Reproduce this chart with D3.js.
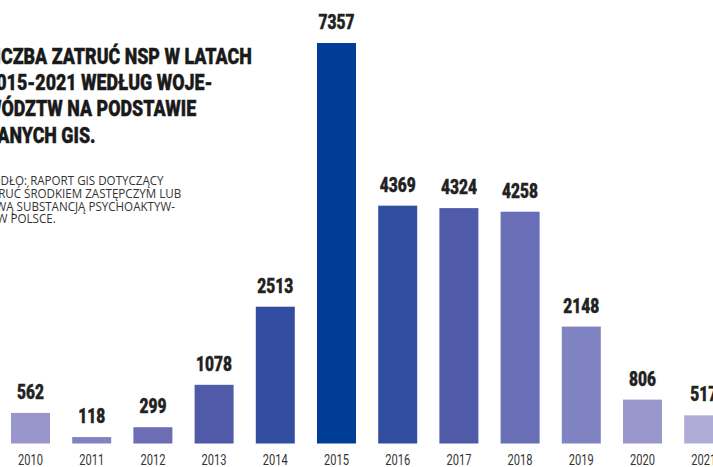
<!DOCTYPE html>
<html>
<head>
<meta charset="utf-8">
<script src="https://cdn.jsdelivr.net/npm/d3@7"></script>
<style>
  html, body { margin: 0; padding: 0; background: #fff; overflow: hidden; }
  svg { display: block; }
  .cond { font-family: "Roboto", "Liberation Sans Narrow", "DejaVu Sans Condensed", sans-serif; }
</style>
</head>
<body>
<div id="chart"></div>
<script>
var w = 713;
var h = 467;

// data
var years = ["2010","2011","2012","2013","2014","2015","2016","2017","2018","2019","2020","2021"];
var cases = [562, 118, 299, 1078, 2513, 7357, 4369, 4324, 4258, 2148, 806, 517];
var barColors = ["#9896ca","#8182c1","#6b6db5","#4f5ba8","#334da0","#003d96",
                 "#324ea0","#4f5aa8","#6a6eb6","#8083c1","#9997cb","#aeabd7"];

// title / source text (left part cut off by the frame, like in the picture)
var titleLines = ["LICZBA ZATRUĆ NSP W LATACH", "2015-2021 WEDŁUG WOJE-", "WÓDZTW NA PODSTAWIE", "DANYCH GIS."];
var sourceLines = ["ŹRÓDŁO: RAPORT GIS DOTYCZĄCY", "ZATRUĆ ŚRODKIEM ZASTĘPCZYM LUB", "NOWĄ SUBSTANCJĄ PSYCHOAKTYW-", "NĄ W POLSCE."];

var svg1 = d3.select("#chart")
  .append("svg")
  .attr("width", w)
  .attr("height", h);

var x = d3.scaleBand()
  .domain(years)
  .range([11, 11 + 11 * 61.2 + 39])
  .paddingInner(1 - 39 / 61.2)
  .paddingOuter(0);

var y = d3.scaleLinear()
  .domain([0, 7357])
  .range([443.5, 43]);

// helper: width of a string in a given style
function measure(str, cls, size, weight) {
  var t = svg1.append("text").attr("class", cls)
    .style("font-size", size + "px").style("font-weight", weight).text(str);
  var wd = t.node().getComputedTextLength();
  t.remove();
  return wd;
}

//bars
svg1.selectAll("rect.bar")
  .data(years)
  .enter()
  .append("rect")
  .attr("class", "bar")
  .attr("x", function(d) { return x(d); })
  .attr("y", function(d, i) { return y(cases[i]); })
  .attr("width", x.bandwidth())
  .attr("height", function(d, i) { return y(0) - y(cases[i]); })
  .attr("fill", function(d, i) { return barColors[i]; });

//value labels
var valSize = 20;
var valSx = 36 / measure("4369", "cond", valSize, 900);
svg1.selectAll("text.val")
  .data(years)
  .enter()
  .append("text")
  .attr("class", "val cond")
  .attr("text-anchor", "middle")
  .attr("transform", function(d, i) {
    return "translate(" + (x(d) + x.bandwidth() / 2) + "," + (y(cases[i]) - 14) + ") scale(" + valSx + ",1)";
  })
  .style("font-size", valSize + "px")
  .style("font-weight", 900)
  .style("fill", "#222")
  .style("stroke", "#222")
  .style("stroke-width", 0.4)
  .text(function(d, i) { return cases[i]; });

//year axis
var xAxis = d3.axisBottom(x).tickSize(0).tickPadding(0);
var yrSize = 15;
var yrSx = 25 / measure("2010", "cond", yrSize, "normal");
var ax = svg1.append("g").attr("transform", "translate(0,451)").call(xAxis);
ax.select(".domain").remove();
ax.selectAll("text")
  .attr("class", "cond")
  .attr("dy", null)
  .attr("y", 14)
  .attr("transform", "scale(" + yrSx + ",1)")
  .attr("x", 0)
  .style("font-size", yrSize + "px")
  .style("font-family", null)
  .style("fill", "#333");
ax.selectAll(".tick")
  .attr("transform", function(d) { return "translate(" + (x(d) + x.bandwidth() / 2) + ",0)"; });

//title
var tSize = 22;
var tSx = 251 / measure("CZBA ZATRUĆ NSP W LATACH", "cond", tSize, 900);
var tX = 1 - tSx * measure("LI", "cond", tSize, 900);
var title = svg1.append("g").attr("transform", "translate(" + tX + ",0) scale(" + tSx + ",1)");
title.selectAll("text")
  .data(titleLines)
  .enter()
  .append("text")
  .attr("class", "cond")
  .attr("x", 0)
  .attr("y", function(d, i) { return 64 + i * 26.2; })
  .style("font-size", tSize + "px")
  .style("font-weight", 900)
  .style("fill", "#1a1a1a")
  .style("stroke", "#1a1a1a")
  .style("stroke-width", 0.4)
  .text(function(d) { return d; });

//source
var sSize = 12.5;
var sSx = 171 / measure("DŁO: RAPORT GIS DOTYCZĄCY", "src", sSize, "normal");
var sX = 1 - sSx * measure("ŹRÓ", "src", sSize, "normal");
var src = svg1.append("g").attr("transform", "translate(" + sX + ",0) scale(" + sSx + ",1)");
src.selectAll("text")
  .data(sourceLines)
  .enter()
  .append("text")
  .attr("x", 0)
  .attr("y", function(d, i) { return 185.5 + i * 12.6; })
  .style("font-family", "'Open Sans', sans-serif")
  .style("font-size", sSize + "px")
  .style("fill", "#333")
  .text(function(d) { return d; });
</script>
</body>
</html>
